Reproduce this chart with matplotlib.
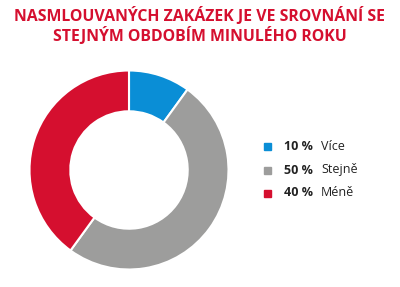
import matplotlib.pyplot as plt

labels = ["Více", "Stejně", "Méně"]
values = [10, 50, 40]
colors = ["#0a8ed6", "#9d9d9c", "#d50f2f"]
title = "NASMLOUVANÝCH ZAKÁZEK JE VE SROVNÁNÍ SE\nSTEJNÝM OBDOBÍM MINULÉHO ROKU"

fig = plt.figure(figsize=(4.0, 2.87), dpi=100)
fig.patch.set_facecolor("white")

# donut
ax = fig.add_axes([28.5 / 400, (287 - 271) / 287, 201 / 400, 202 / 287])
ax.pie(values, colors=colors, startangle=90, counterclock=False,
       wedgeprops=dict(width=0.41, edgecolor="white", linewidth=1.5))
ax.set_xlim(-1.01, 1.01)
ax.set_ylim(-1.01, 1.01)
ax.set_aspect("equal")

fig.text(0.5, 1 - 26 / 287, title, ha="center", va="center", color="#d50f2f",
         fontsize=11.4, fontweight="bold", family="Open Sans", linespacing=1.2)

# legend
ys = [146, 170, 193]
for lab, val, col, y in zip(labels, values, colors, ys):
    yf = 1 - y / 287
    fig.patches.append(plt.Rectangle((264 / 400, yf - 3.5 / 287), 7 / 400, 7 / 287,
                                     transform=fig.transFigure, color=col))
    fig.text(284 / 400, yf, f"{val} %", ha="left", va="center", fontsize=9,
             fontweight="bold", family="Open Sans", color="#222222")
    fig.text(321 / 400, yf, lab, ha="left", va="center", fontsize=9,
             family="Open Sans", color="#222222")

fig.savefig("out.png", dpi=100)
